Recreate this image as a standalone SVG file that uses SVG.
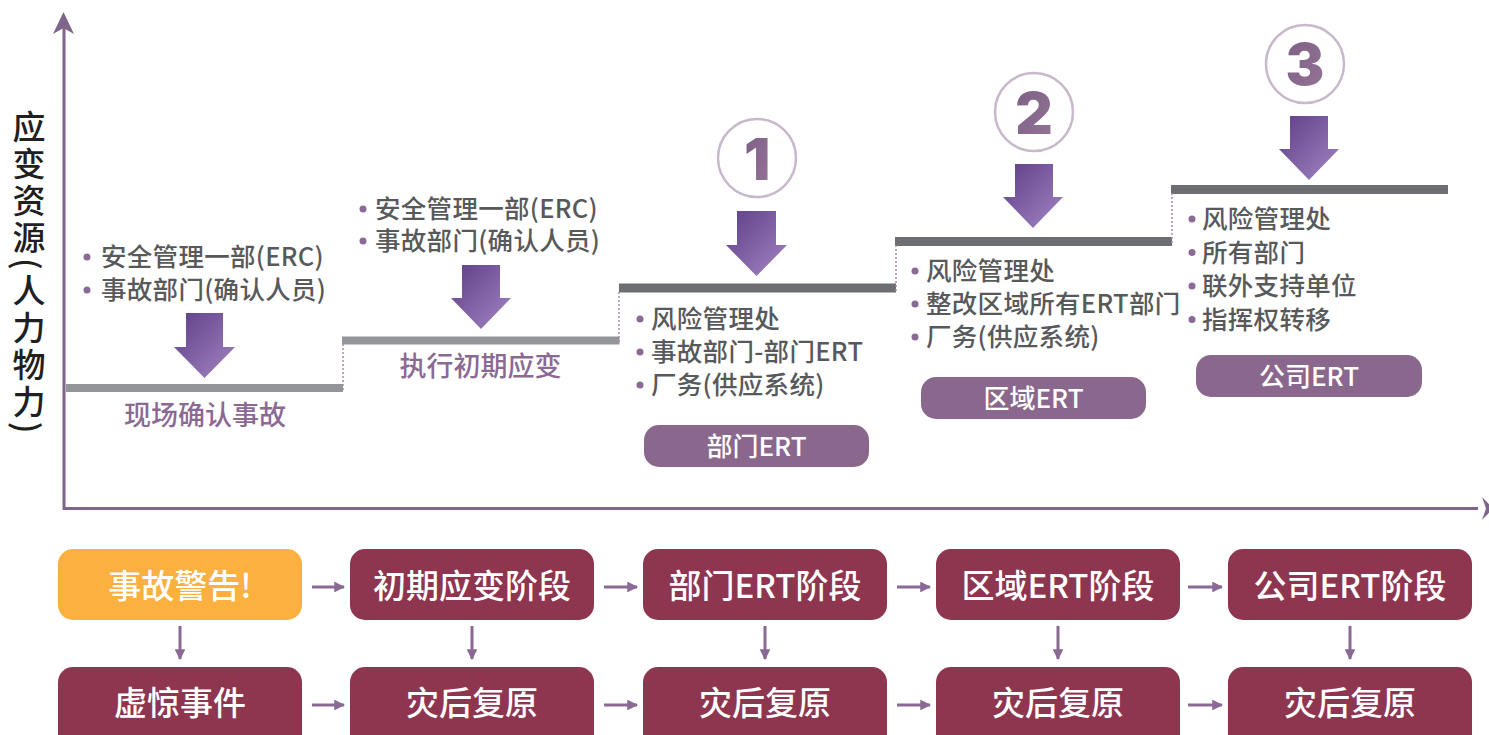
<svg xmlns="http://www.w3.org/2000/svg" width="1489" height="735" viewBox="0 0 1489 735">
<defs>
<linearGradient id="ag" x1="0" y1="0" x2="1" y2="1">
<stop offset="0" stop-color="#5f3e86"/>
<stop offset="1" stop-color="#a385c4"/>
</linearGradient>
<linearGradient id="ng" x1="0" y1="0" x2="1" y2="1">
<stop offset="0" stop-color="#7c5f86"/>
<stop offset="1" stop-color="#957496"/>
</linearGradient>
<marker id="mh" viewBox="0 0 10 10" refX="9" refY="5" markerWidth="3.6" markerHeight="3.6" orient="auto" markerUnits="strokeWidth">
<path d="M0,0 L10,5 L0,10 Z" fill="#8a6a94"/>
</marker>
<style>
.cjk{font-family:"Noto Sans CJK SC","Noto Sans",sans-serif;}
.lst{font-size:25.5px;font-weight:500;fill:#58595b;letter-spacing:0.3px;}
.stl{font-size:27px;font-weight:500;fill:#8a6a94;text-anchor:middle;}
.pill{fill:#8a678c;}
.pt{font-size:26px;font-weight:500;fill:#ffffff;text-anchor:middle;}
.bul{fill:#8a6a94;}
.box{fill:#8e354f;}
.bt{font-size:33px;font-weight:500;fill:#ffffff;text-anchor:middle;}
.step1{stroke:#939598;stroke-width:8;}
.step2{stroke:#6d6e71;stroke-width:9;}
.dot{stroke:#a88cb0;stroke-width:1.5;stroke-dasharray:2 2;fill:none;}
.axis{stroke:#7f6589;stroke-width:3;fill:none;}
.circ{fill:none;stroke:#c8b8cc;stroke-width:2.5;}
.num{font-family:Inter,"Noto Sans",sans-serif;font-weight:900;font-size:58px;fill:url(#ng);text-anchor:middle;}
.con{stroke:#8a6a94;stroke-width:3;fill:none;marker-end:url(#mh);}
.darr{fill:url(#ag);}
</style>
</defs>
<rect width="1489" height="735" fill="#ffffff"/>

<g id="axes">
<line class="axis" x1="64" y1="510" x2="64" y2="28"/>
<path d="M63.5,12 L53,34 L63.5,28 L74,34 Z" fill="#7f6589"/>
<line class="axis" x1="64" y1="508.5" x2="1478" y2="508.5"/>
<path d="M1493,508.5 L1482,497 L1486,508.5 L1482,520 Z" fill="#7f6589"/>
<text class="cjk" x="29" y="110" style="writing-mode:vertical-rl;letter-spacing:4px" font-size="33" font-weight="500" fill="#231f20">应变资源(人力物力)</text>
</g>

<g id="steps">
<line class="step1" x1="66" y1="388" x2="343" y2="388"/>
<line class="step1" x1="342" y1="340.5" x2="619.5" y2="340.5"/>
<line class="step2" x1="619" y1="288" x2="896" y2="288"/>
<line class="step2" x1="895" y1="241.5" x2="1172" y2="241.5"/>
<line class="step2" x1="1171" y1="189.5" x2="1448" y2="189.5"/>
<line class="dot" x1="343" y1="344" x2="343" y2="392"/>
<line class="dot" x1="619" y1="292" x2="619" y2="344"/>
<line class="dot" x1="896" y1="245" x2="896" y2="292"/>
<line class="dot" x1="1172" y1="193" x2="1172" y2="245"/>
</g>

<g id="stage1">
<circle class="bul" cx="87" cy="257" r="3.5"/>
<circle class="bul" cx="87" cy="290" r="3.5"/>
<text class="cjk lst" x="101" y="266">安全管理一部(ERC)</text>
<text class="cjk lst" x="101" y="299">事故部门(确认人员)</text>
<path class="darr" d="M186,313 H223 V347 H235 L204.5,378 L174,347 H186 Z"/>
<text class="cjk stl" x="205" y="425">现场确认事故</text>
</g>

<g id="stage2">
<circle class="bul" cx="363" cy="209" r="3.5"/>
<circle class="bul" cx="363" cy="241" r="3.5"/>
<text class="cjk lst" x="375" y="218">安全管理一部(ERC)</text>
<text class="cjk lst" x="375" y="250">事故部门(确认人员)</text>
<path class="darr" d="M462,265 H500 V298 H511 L481,329 L451,298 H462 Z"/>
<text class="cjk stl" x="480.5" y="376">执行初期应变</text>
</g>

<g id="stage3">
<circle class="circ" cx="757" cy="158" r="39"/>
<text class="num" x="757" y="180">1</text>
<path class="darr" d="M737,211 H776 V245 H787 L756.5,276 L726,245 H737 Z"/>
<circle class="bul" cx="640" cy="319" r="3.5"/>
<circle class="bul" cx="640" cy="352" r="3.5"/>
<circle class="bul" cx="640" cy="385" r="3.5"/>
<text class="cjk lst" x="651" y="328">风险管理处</text>
<text class="cjk lst" x="651" y="361">事故部门-部门ERT</text>
<text class="cjk lst" x="651" y="394">厂务(供应系统)</text>
<rect class="pill" x="644" y="425" width="225" height="42" rx="15"/>
<text class="cjk pt" x="756.5" y="456">部门ERT</text>
</g>

<g id="stage4">
<circle class="circ" cx="1034" cy="112" r="39"/>
<text class="num" x="1034" y="134">2</text>
<path class="darr" d="M1015,164 H1053 V197 H1063 L1033,228 L1003,197 H1015 Z"/>
<circle class="bul" cx="915" cy="271" r="3.5"/>
<circle class="bul" cx="915" cy="304" r="3.5"/>
<circle class="bul" cx="915" cy="337" r="3.5"/>
<text class="cjk lst" x="926" y="280">风险管理处</text>
<text class="cjk lst" x="926" y="313">整改区域所有ERT部门</text>
<text class="cjk lst" x="926" y="346">厂务(供应系统)</text>
<rect class="pill" x="921" y="377" width="225" height="42" rx="15"/>
<text class="cjk pt" x="1033.5" y="408">区域ERT</text>
</g>

<g id="stage5">
<circle class="circ" cx="1305" cy="64" r="39"/>
<text class="num" x="1305" y="85">3</text>
<path class="darr" d="M1290,116 H1328 V149 H1339 L1309,180 L1279,149 H1290 Z"/>
<circle class="bul" cx="1192" cy="219" r="3.5"/>
<circle class="bul" cx="1192" cy="252.5" r="3.5"/>
<circle class="bul" cx="1192" cy="286" r="3.5"/>
<circle class="bul" cx="1192" cy="319.5" r="3.5"/>
<text class="cjk lst" x="1202" y="228">风险管理处</text>
<text class="cjk lst" x="1202" y="261.5">所有部门</text>
<text class="cjk lst" x="1202" y="295">联外支持单位</text>
<text class="cjk lst" x="1202" y="328.5">指挥权转移</text>
<rect class="pill" x="1196" y="355" width="226" height="42" rx="15"/>
<text class="cjk pt" x="1309" y="386">公司ERT</text>
</g>

<g id="b-alert">
<rect x="58" y="549" width="244" height="71" rx="15" fill="#fbb040"/>
<text class="cjk bt" x="180" y="598">事故警告!</text>
</g>
<g id="b-initial">
<rect class="box" x="350" y="549" width="244" height="71" rx="15"/>
<text class="cjk bt" x="472" y="598">初期应变阶段</text>
</g>
<g id="b-dept">
<rect class="box" x="643" y="549" width="244" height="71" rx="15"/>
<text class="cjk bt" x="765" y="598">部门ERT阶段</text>
</g>
<g id="b-area">
<rect class="box" x="936" y="549" width="244" height="71" rx="15"/>
<text class="cjk bt" x="1058" y="598">区域ERT阶段</text>
</g>
<g id="b-company">
<rect class="box" x="1228" y="549" width="244" height="71" rx="15"/>
<text class="cjk bt" x="1350" y="598">公司ERT阶段</text>
</g>
<g id="b-false">
<rect class="box" x="58" y="667" width="244" height="90" rx="15"/>
<text class="cjk bt" x="180" y="715">虚惊事件</text>
</g>
<g id="b-rec1">
<rect class="box" x="350" y="667" width="244" height="90" rx="15"/>
<text class="cjk bt" x="472" y="715">灾后复原</text>
</g>
<g id="b-rec2">
<rect class="box" x="643" y="667" width="244" height="90" rx="15"/>
<text class="cjk bt" x="765" y="715">灾后复原</text>
</g>
<g id="b-rec3">
<rect class="box" x="936" y="667" width="244" height="90" rx="15"/>
<text class="cjk bt" x="1058" y="715">灾后复原</text>
</g>
<g id="b-rec4">
<rect class="box" x="1228" y="667" width="244" height="90" rx="15"/>
<text class="cjk bt" x="1350" y="715">灾后复原</text>
</g>

<g id="connectors">
<line class="con" x1="312" y1="587" x2="344" y2="587"/>
<line class="con" x1="604" y1="587" x2="637" y2="587"/>
<line class="con" x1="897" y1="587" x2="930" y2="587"/>
<line class="con" x1="1188" y1="587" x2="1222" y2="587"/>
<line class="con" x1="312" y1="705" x2="344" y2="705"/>
<line class="con" x1="604" y1="705" x2="637" y2="705"/>
<line class="con" x1="897" y1="705" x2="930" y2="705"/>
<line class="con" x1="1188" y1="705" x2="1222" y2="705"/>
<line class="con" x1="180" y1="626" x2="180" y2="659"/>
<line class="con" x1="472" y1="626" x2="472" y2="659"/>
<line class="con" x1="765" y1="626" x2="765" y2="659"/>
<line class="con" x1="1058" y1="626" x2="1058" y2="659"/>
<line class="con" x1="1350" y1="626" x2="1350" y2="659"/>
</g>
</svg>
